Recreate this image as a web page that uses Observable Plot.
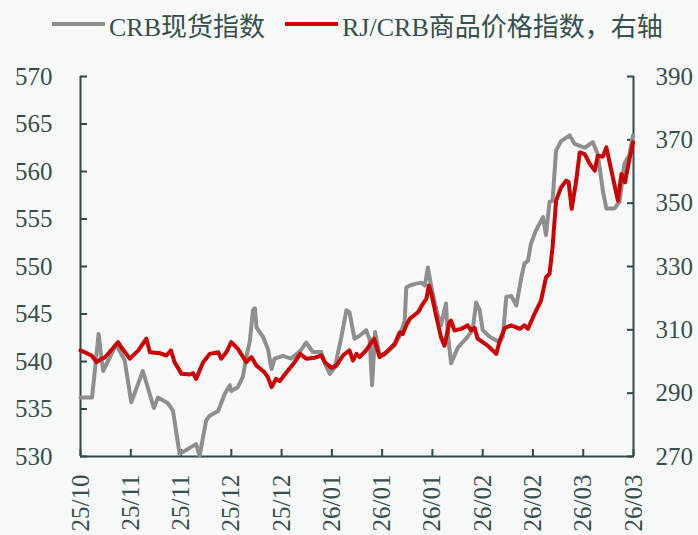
<!DOCTYPE html>
<html>
<head>
<meta charset="utf-8">
<script src="https://cdn.jsdelivr.net/npm/d3@7"></script>
<script src="https://cdn.jsdelivr.net/npm/@observablehq/plot@0.6"></script>
<style>
  html, body { margin: 0; padding: 0; background: #f8faf9; }
  #wrap { width: 698px; height: 535px; background: #f8faf9; font-family: "Liberation Serif", "Noto Sans CJK SC", serif; color: #35504f; }
  #legend { height: 48px; display: flex; align-items: center; padding-left: 52px; box-sizing: border-box; font-size: 26px; }
  .item { display: flex; align-items: center; margin-right: 20px; }
  .sw { width: 53px; height: 4px; margin-right: 4px; }
</style>
</head>
<body>
<div id="wrap">
  <div id="legend"></div>
  <div id="chart"></div>
</div>
<script>
// ---- data ----
const tickLabels = ["25/10","25/11","25/11","25/12","25/12","26/01","26/01","26/01","26/02","26/02","26/03","26/03"];
const seriesNames = ["CRB现货指数", "RJ/CRB商品价格指数，右轴"];
const seriesColors = ["#8f8f8f", "#cc0000"];

// CRB spot index (left axis), position in trading days
const spotIdx = [0,2.3,3.6,4.5,7.1,8.8,10.1,12.4,14.6,15.4,17.4,18.4,19.7,21.4,23.0,23.7,25.0,25.7,27.4,28.7,29.7,30.0,31.3,32.3,33.0,33.7,34.3,34.7,35.0,36.3,37.3,38.0,38.6,40.3,41.9,43.7,44.9,46.2,47.9,48.6,49.6,50.6,51.9,52.9,53.5,54.5,55.5,56.8,57.5,58.0,58.6,59.5,60.4,62.5,63.5,64.5,64.8,65.5,66.8,67.8,68.5,69.1,69.8,70.8,71.7,72.7,73.0,73.7,75.1,76.7,78.0,78.7,79.4,80.0,81.4,83.4,84.0,84.7,85.7,86.7,87.7,88.3,89.0,89.6,90.6,92.0,92.6,93.3,93.9,94.6,95.6,97.3,98.3,99.3,100.3,101.9,102.9,103.9,104.6,106.2,107.2,108.2,109.2,109.9];
const spotVal = [536.2,536.2,542.9,539.0,541.8,540.1,535.7,539.0,535.1,536.2,535.6,534.8,530.3,530.8,531.3,530.1,533.8,534.3,534.8,536.6,537.5,536.9,537.3,538.4,540.5,542.2,545.4,545.6,543.6,542.6,541.3,539.2,540.3,540.6,540.3,541.1,542.0,541.0,541.0,539.8,538.7,539.4,542.6,545.4,545.2,542.4,542.7,543.3,542.4,537.5,543.1,540.6,540.7,541.7,542.7,544.3,547.8,548.0,548.2,548.3,548.0,549.9,547.8,545.4,543.8,546.1,543.3,539.8,541.5,542.4,543.3,546.2,545.4,543.3,542.6,542.0,542.6,546.8,546.9,545.9,548.9,550.3,550.6,552.4,553.8,555.2,553.3,556.8,556.9,562.2,563.2,563.8,562.9,562.7,562.5,563.1,561.8,558.0,556.1,556.1,556.8,560.8,561.8,563.8];

// RJ/CRB index (right axis)
const rjIdx = [0,2.2,3.2,4.2,4.8,7.5,8.1,9.8,11.5,13.1,13.8,15.8,17.1,18.0,18.7,20.1,21.8,22.4,23.0,24.4,25.7,27.4,28.0,29.0,30.0,31.3,33.0,34.0,35.0,36.6,37.3,38.0,38.9,39.6,41.3,42.6,43.7,44.9,46.6,47.9,48.6,49.9,50.9,52.2,53.5,54.2,54.9,55.5,56.8,58.4,59.5,60.8,62.5,63.5,64.1,64.8,65.5,67.1,68.1,68.8,69.3,69.8,70.8,71.7,72.4,73.4,73.7,74.4,75.7,77.0,77.7,78.4,79.0,81.0,82.7,83.4,84.4,85.7,87.4,88.3,89.0,90.3,91.6,92.6,93.3,93.9,94.6,95.6,96.6,97.1,97.7,98.6,99.3,100.3,101.3,102.3,102.9,103.9,104.6,105.6,106.9,107.6,108.3,109.0,109.9];
const rjVal = [303.5,301.9,299.8,300.9,301.2,306.1,304.5,300.9,303.5,307.2,302.9,302.6,301.9,303.5,299.8,296.1,295.9,296.3,294.5,299.8,302.4,302.9,300.9,302.9,306.1,304.0,299.8,301.4,298.7,296.6,295.0,291.9,294.5,293.8,297.2,299.8,302.4,300.9,301.2,301.9,299.8,298.0,298.7,301.9,303.5,300.3,302.4,301.4,303.5,307.2,301.4,302.9,305.6,309.2,308.7,311.4,313.5,315.5,318.2,319.8,324.0,321.4,314.0,307.7,305.0,312.4,312.9,309.8,310.3,311.4,309.8,310.6,307.2,305.0,302.4,306.6,310.6,311.4,310.3,311.4,310.3,315.0,319.2,326.6,327.7,336.1,350.8,355.0,357.1,356.6,348.2,357.1,366.0,365.5,362.4,360.3,365.0,364.7,367.6,360.3,350.8,359.2,356.6,362.4,369.2];

const leftTicks = [530,535,540,545,550,555,560,565,570];
const rightTicks = [270,290,310,330,350,370,390];

// ---- mapping between axes ----
const L0 = 530, L1 = 570, R0 = 270, R1 = 390;
const toLeft = r => L0 + (r - R0) * (L1 - L0) / (R1 - R0);
const fromLeft = l => R0 + (l - L0) * (R1 - R0) / (L1 - L0);

const spot = spotIdx.map((i, k) => ({i, v: spotVal[k]}));
const rj = rjIdx.map((i, k) => ({i, v: toLeft(rjVal[k])}));
const xTicks = tickLabels.map((_, k) => k * 10);
const lastX = xTicks[xTicks.length - 1];

// ---- legend ----
const legend = document.getElementById("legend");
seriesNames.forEach((name, k) => {
  const it = document.createElement("div");
  it.className = "item";
  it.innerHTML = `<span class="sw" style="background:${seriesColors[k]}"></span><span>${name}</span>`;
  legend.appendChild(it);
});

const axisColor = "#2e4b4b";
const textColor = "#35504f";

const chart = Plot.plot({
  width: 698,
  height: 487,
  marginTop: 28,
  marginBottom: 79,
  marginLeft: 80,
  marginRight: 65,
  style: {background: "#f8faf9", fontFamily: "'Liberation Serif', 'Noto Sans CJK SC', serif", color: textColor, overflow: "visible"},
  x: {domain: [0, lastX]},
  y: {domain: [L0, L1]},
  marks: [
    // axis lines
    Plot.ruleX([0], {stroke: axisColor, strokeWidth: 2}),
    Plot.ruleX([lastX], {stroke: axisColor, strokeWidth: 2}),
    Plot.ruleY([L0], {stroke: axisColor, strokeWidth: 2}),
    // inward ticks
    Plot.axisY({anchor: "left", ticks: leftTicks, tickSize: 7, dx: 7, stroke: axisColor, strokeWidth: 2, fill: "none", label: null}),
    Plot.axisY({anchor: "right", ticks: rightTicks.map(toLeft), tickSize: 7, dx: -7, stroke: axisColor, strokeWidth: 2, fill: "none", label: null}),
    Plot.axisX({anchor: "bottom", ticks: xTicks, tickSize: 7, dy: -7, stroke: axisColor, strokeWidth: 2, fill: "none", label: null}),
    // labels
    Plot.axisY({anchor: "left", ticks: leftTicks, tickSize: 0, tickPadding: 28, fontSize: 25, fill: textColor, label: null}),
    Plot.axisY({anchor: "right", ticks: rightTicks.map(toLeft), tickSize: 0, tickPadding: 22, fontSize: 25, fill: textColor, tickFormat: d => Math.round(fromLeft(d)), label: null}),
    Plot.axisX({anchor: "bottom", ticks: xTicks, tickSize: 0, tickPadding: 18, tickRotate: -90, fontSize: 25, fill: textColor, tickFormat: d => tickLabels[Math.round(d / 10)], label: null}),
    // series
    Plot.lineY(spot, {x: "i", y: "v", stroke: seriesColors[0], strokeWidth: 4, strokeLinejoin: "round"}),
    Plot.lineY(rj, {x: "i", y: "v", stroke: seriesColors[1], strokeWidth: 4, strokeLinejoin: "round"})
  ]
});
document.getElementById("chart").appendChild(chart);
</script>
</body>
</html>
